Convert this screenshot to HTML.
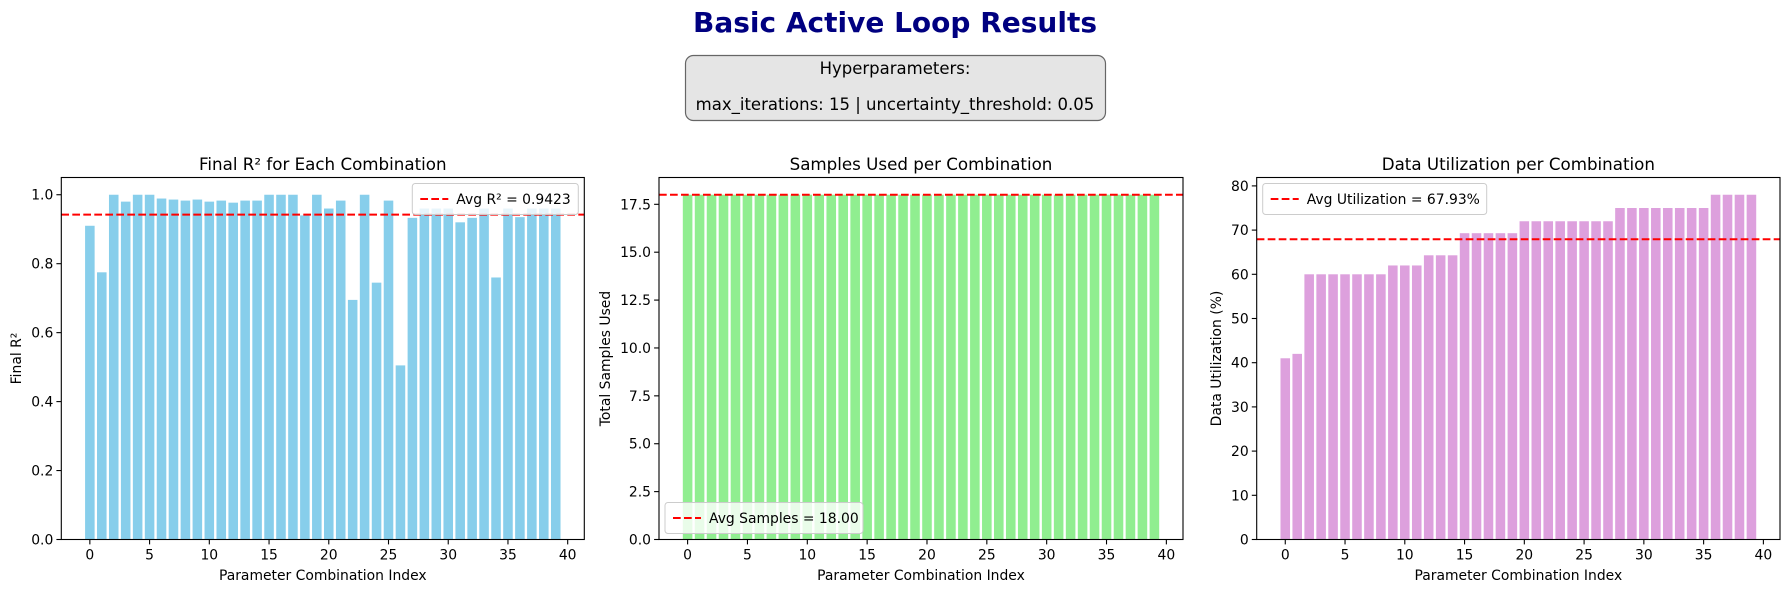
<!DOCTYPE html>
<html><head><meta charset="utf-8">
<style>
html,body{margin:0;padding:0;background:#fff;}
svg{display:block;font-family:"DejaVu Sans","Liberation Sans",sans-serif;}
</style></head>
<body>
<svg id="fig" width="1790" height="592" viewBox="0 0 1790 592" xmlns="http://www.w3.org/2000/svg">
<text x="895" y="32" text-anchor="middle" font-size="28" font-weight="bold" fill="#000080">Basic Active Loop Results</text>
<g>
<rect x="685.5" y="55.5" width="420" height="65" rx="8" fill="#e5e5e5" stroke="#666" stroke-width="1.2"/>
<text x="895" y="74" text-anchor="middle" font-size="16.5" fill="#000">Hyperparameters:</text>
<text x="895" y="110" text-anchor="middle" font-size="16.5" fill="#000">max_iterations: 15 | uncertainty_threshold: 0.05</text>
</g>
</svg>
<script>
const categories = Array.from({length:40},(_,i)=>i);
const r2Values = [0.91,0.775,1.0,0.98,1.0,1.0,0.989,0.986,0.983,0.986,0.98,0.983,0.977,0.983,0.983,1.0,1.0,1.0,0.94,1.0,0.96,0.983,0.695,1.0,0.745,0.983,0.505,0.933,0.96,0.96,0.96,0.92,0.933,0.96,0.76,0.96,0.935,0.96,0.96,0.96];
const sampleValues = Array(40).fill(18);
const utilValues = [41,42,60,60,60,60,60,60,60,62,62,62,64.3,64.3,64.3,69.3,69.3,69.3,69.3,69.3,72,72,72,72,72,72,72,72,75,75,75,75,75,75,75,75,78,78,78,78];
const r2Ticks = ["0.0","0.2","0.4","0.6","0.8","1.0"];
const sampleTicks = ["0.0","2.5","5.0","7.5","10.0","12.5","15.0","17.5"];
const utilTicks = ["0","10","20","30","40","50","60","70","80"];
const xTicks = [0,5,10,15,20,25,30,35,40];
const r2Avg = 0.9423, sampleAvg = 18.00, utilAvg = 67.93;

const NS="http://www.w3.org/2000/svg";
const svg=document.getElementById('fig');
function mk(tag,attrs,parent){const e=document.createElementNS(NS,tag);for(const k in attrs)e.setAttribute(k,attrs[k]);(parent||svg).appendChild(e);return e;}

function panel(o){
  const g=mk('g',{});
  
  
  const L=o.left,R=o.right,T=177.5,B=539.5;
  const xmin=-2.39,xmax=41.39;
  const ymax=Math.max(...o.values)*1.05;
  const sx=v=>L+(v-xmin)/(xmax-xmin)*(R-L);
  const sy=v=>B-(v/ymax)*(B-T);
  // bars
  o.values.forEach((v,i)=>{
    const b=mk('rect',{x:sx(categories[i]-0.4),y:sy(v),width:sx(0.8)-sx(0),height:B-sy(v),fill:o.color},g);
    
    
  });
  // avg line
  const al=mk('line',{x1:L,x2:R,y1:sy(o.avg),y2:sy(o.avg),stroke:'#ff0000','stroke-width':2.1,'stroke-dasharray':'7.7,3.3'},g);
  
  
  // frame
  const fr=mk('rect',{x:L,y:T,width:R-L,height:B-T,fill:'none',stroke:'#000','stroke-width':1.1},g);
  
  
  // x ticks
  xTicks.forEach(t=>{
    const x=sx(t);
    mk('line',{x1:x,x2:x,y1:B,y2:B+4.9,stroke:'#000','stroke-width':1.1},g);
    const tl=mk('text',{x:x,y:B+20,'text-anchor':'middle','font-size':13.9,fill:'#000'},g);
    tl.textContent=t;
    
    
  });
  // y ticks
  o.ticks.forEach((t,i)=>{
    const y=sy(parseFloat(t));
    mk('line',{x1:L-4.9,x2:L,y1:y,y2:y,stroke:'#000','stroke-width':1.1},g);
    const tl=mk('text',{x:L-8,y:y+5,'text-anchor':'end','font-size':13.9,fill:'#000'},g);
    tl.textContent=t;
    
    
  });
  const tt=mk('text',{x:(L+R)/2,y:170,'text-anchor':'middle','font-size':16.7,fill:'#000'},g);
  tt.textContent=o.title;
  
  
  const xl=mk('text',{x:(L+R)/2,y:580,'text-anchor':'middle','font-size':13.9,fill:'#000'},g);
  xl.textContent='Parameter Combination Index';
  
  
  const yx=o.ylabelX, yy=(T+B)/2;
  const yl=mk('text',{x:yx,y:yy,'text-anchor':'middle','font-size':13.9,fill:'#000',transform:`rotate(-90 ${yx} ${yy})`},g);
  yl.textContent=o.ylabel;
  
  
  // legend
  const lw=o.legendW, lh=31;
  let lx,ly;
  if(o.legendPos==='ur'){lx=R-6-lw;ly=T+6;}
  else if(o.legendPos==='ul'){lx=L+6;ly=T+6;}
  else {lx=L+6;ly=B-6-lh;}
  const lg=mk('g',{},g);
  
  
  mk('rect',{x:lx,y:ly,width:lw,height:lh,rx:3,fill:'#fff','fill-opacity':0.8,stroke:'#ccc','stroke-width':1},lg);
  mk('line',{x1:lx+8,x2:lx+36,y1:ly+lh/2,y2:ly+lh/2,stroke:'#ff0000','stroke-width':2.1,'stroke-dasharray':'7.7,3.3'},lg);
  const lt=mk('text',{x:lx+44,y:ly+lh/2+5,'font-size':13.9,fill:'#000'},lg);
  lt.textContent=o.legendText;
}
panel({name:'r2-chart',left:61.3,right:584.3,values:r2Values,avg:r2Avg,color:'#87ceeb',ticks:r2Ticks,title:'Final R² for Each Combination',ylabel:'Final R²',ylabelX:21,legendPos:'ur',legendW:166,legendText:'Avg R² = '+r2Avg.toFixed(4)});
panel({name:'samples-chart',left:659,right:1183,values:sampleValues,avg:sampleAvg,color:'#90ee90',ticks:sampleTicks,title:'Samples Used per Combination',ylabel:'Total Samples Used',ylabelX:610,legendPos:'ll',legendW:198,legendText:'Avg Samples = '+sampleAvg.toFixed(2)});
panel({name:'utilization-chart',left:1256.7,right:1780,values:utilValues,avg:utilAvg,color:'#dda0dd',ticks:utilTicks,title:'Data Utilization per Combination',ylabel:'Data Utilization (%)',ylabelX:1221,legendPos:'ul',legendW:224,legendText:'Avg Utilization = '+utilAvg.toFixed(2)+'%'});
</script>
</body></html>
